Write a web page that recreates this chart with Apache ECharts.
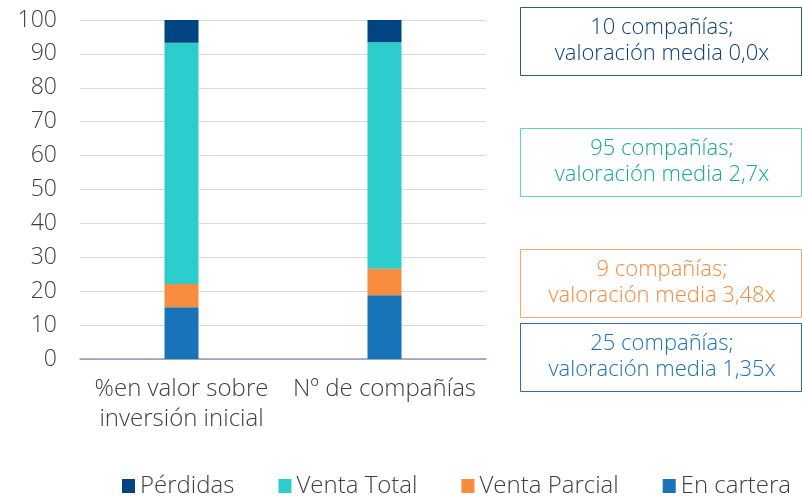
<!DOCTYPE html>
<html>
<head>
<meta charset="utf-8">
<script src="https://cdn.jsdelivr.net/npm/echarts@6/dist/echarts.min.js"></script>
<style>
  html, body { margin: 0; padding: 0; background: #fff; }
  #chart { width: 802px; height: 496px; }
</style>
</head>
<body>
<div id="chart"></div>
<script>
var categories = ['%en valor sobre\ninversión inicial', 'Nº de compañías'];
var enCartera = [15.3, 18.8];
var ventaParcial = [6.8, 7.8];
var ventaTotal = [71.2, 66.8];
var perdidas = [6.7, 6.6];
var yTicks = [0, 100, 10]; // min, max, interval

var boxLabels = [
    '10 compañías;\nvaloración media 0,0x',
    '95 compañías;\nvaloración media 2,7x',
    '9 compañías;\nvaloración media 3,48x',
    '25 compañías;\nvaloración media 1,35x'
];

var FONT = '"Open Sans"';
var colors = {
    perdidas: '#004481',
    total: '#2dcccd',
    parcial: '#f78b3e',
    cartera: '#1973b8'
};

function box(top, text, border, textColor){
    return {
        type: 'group',
        left: 520,
        top: top,
        children: [
            {
                type: 'rect',
                shape: {x: 0.5, y: 0.5, width: 281, height: 68},
                style: {fill: '#fff', stroke: border, lineWidth: 1}
            },
            {
                type: 'text',
                x: 142,
                y: 34,
                style: {
                    text: text,
                    fill: textColor,
                    font: '300 22px ' + FONT,
                    align: 'center',
                    verticalAlign: 'middle',
                    lineHeight: 26
                }
            }
        ]
    };
}

var myChart = echarts.init(document.getElementById('chart'));
var option = {
    animation: false,
    textStyle: {fontFamily: FONT, fontWeight: 300},
    grid: {left: 80, right: 316, top: 20, bottom: 137},
    legend: {
        data: ['Pérdidas', 'Venta Total', 'Venta Parcial', 'En cartera'],
        left: 122,
        top: 474,
        padding: 0,
        itemWidth: 13,
        itemHeight: 14,
        itemGap: 44,
        icon: 'rect',
        textStyle: {fontSize: 24, color: '#404040', fontFamily: FONT, fontWeight: 300}
    },
    xAxis: {
        type: 'category',
        data: categories,
        axisLine: {lineStyle: {color: '#8c98b4', width: 1.5}},
        axisTick: {length: 6, lineStyle: {color: '#8c98b4', width: 1.5}},
        axisLabel: {fontSize: 24, fontWeight: 300, color: '#404040', lineHeight: 30, margin: 15, interval: 0}
    },
    yAxis: {
        type: 'value',
        min: yTicks[0],
        max: yTicks[1],
        interval: yTicks[2],
        axisLine: {show: false},
        axisTick: {show: false},
        splitLine: {lineStyle: {color: '#d9d9d9', width: 1}},
        axisLabel: {fontSize: 23, fontWeight: 300, color: '#404040', margin: 23}
    },
    series: [
        {name: 'En cartera', type: 'bar', stack: 'a', data: enCartera, barWidth: 34, itemStyle: {color: colors.cartera}},
        {name: 'Venta Parcial', type: 'bar', stack: 'a', data: ventaParcial, itemStyle: {color: colors.parcial}},
        {name: 'Venta Total', type: 'bar', stack: 'a', data: ventaTotal, itemStyle: {color: colors.total}},
        {name: 'Pérdidas', type: 'bar', stack: 'a', data: perdidas, itemStyle: {color: colors.perdidas}}
    ],
    graphic: [
        box(7, boxLabels[0], '#2a5a8f', '#0c3f78'),
        box(128, boxLabels[1], '#5fcfc8', '#17a69b'),
        box(249, boxLabels[2], '#f8a66d', '#f58a3e'),
        box(323, boxLabels[3], '#2c6ea8', '#1a6fb5')
    ]
};
myChart.setOption(option);
</script>
</body>
</html>
